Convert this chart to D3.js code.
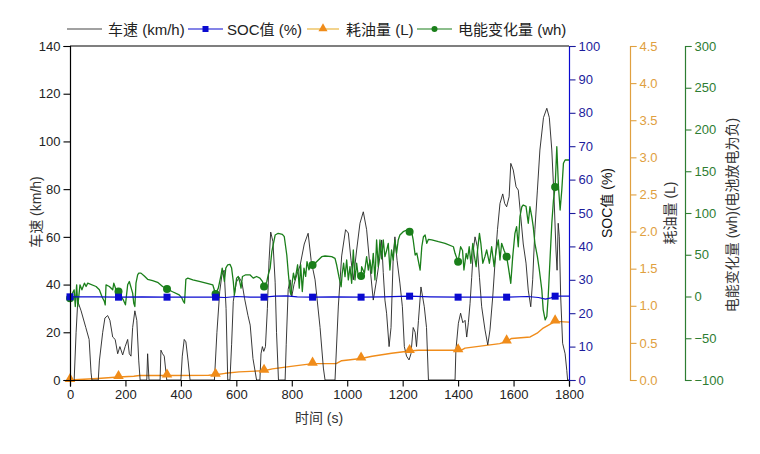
<!DOCTYPE html>
<html><head><meta charset="utf-8">
<script src="https://cdn.jsdelivr.net/npm/d3@7"></script>
<style>
body{margin:0;background:#fff;}
text{font-family:"Liberation Sans",Arial,"Noto Sans CJK SC",sans-serif;}
</style></head>
<body><svg id="c" width="760" height="454"></svg>
<script>
// ---------- data ----------
const markerTimes = [0,175,350,525,700,875,1050,1225,1400,1575,1750];

const speedT = [0,15,22,28,40,57,69,76,79,102,106,118,126,136,144,154,163,172,180,190,199,208,214,220,226,234,241,248,253,277,280,285,325,328,334,340,349,400,405,412,418,426,433,521,530,540,548,556,563,569,577,583,589,600,610,620,630,642,650,660,673,685,689,694,699,705,712,718,724,732,740,745,752,776,780,787,794,800,808,818,830,845,859,870,884,902,914,920,956,968,980,994,1004,1014,1022,1034,1046,1058,1070,1082,1094,1106,1118,1124,1130,1136,1142,1151,1158,1166,1172,1180,1190,1199,1206,1214,1223,1230,1238,1245,1250,1257,1266,1278,1286,1293,1389,1392,1401,1409,1417,1425,1431,1437,1443,1449,1455,1461,1469,1477,1485,1497,1507,1515,1525,1533,1542,1551,1561,1568,1575,1584,1590,1599,1609,1617,1626,1635,1645,1653,1662,1669,1677,1686,1695,1708,1720,1729,1738,1746,1753,1757,1761,1765,1770,1777,1786,1792,1795,1800];
const speedV = [0,0,20,33,29,22,17,3,0,0,8,20,26,27,25,18,17,11,14,10.5,14,17,11,10,22,29,25,8,0,0,11,0,0,12.5,11,10,0,0,10,17,16,8,0,0,20,37,44,46,30,0,0,15,33,41,43,41,34,27,23,9,0,0,11,14,12,14,30,50,62,58,41,20,0,0,15,38,42,35,40,44,48,57,61.5,50,42,22,5,0,0,31,52,63,61.6,50,42,54.5,65.7,70.5,63,47.5,33.5,42,51.7,58.7,45,33.5,28,14,22,51.7,60,50,40.6,30.7,14,10,8.4,11,22,20,14,25,39,30.7,22,0,0,12.5,23.8,28,24,25,18,24,32,43,54.5,60,56,43,30.7,21,14.7,21,35,49,63,74,78,74,72.6,76.8,90.8,88,81,79.6,68.5,57,49,37.7,30.7,42,63,79.6,96.4,110,113.9,110,96.4,76.8,54.5,46,65.7,60,35,15.4,11,4,0,0];

const socT = [0,100,175,260,350,450,525,560,600,650,700,740,780,820,875,950,1050,1130,1225,1300,1400,1500,1575,1650,1690,1715,1735,1750,1800];
const socV = [24.9,24.9,24.8,24.9,24.8,24.8,24.8,24.7,25.0,24.8,24.8,25.1,25.2,24.9,24.8,24.9,24.8,24.9,25.1,24.9,24.8,24.8,24.8,25.0,24.7,24.2,24.6,25.1,25.1];

const fuelT = [0,100,175,230,250,350,500,525,560,610,700,730,790,875,960,980,1050,1090,1160,1225,1256,1400,1410,1425,1550,1575,1593,1660,1685,1707,1750,1800];
const fuelV = [0,0.02,0.04,0.05,0.06,0.06,0.065,0.07,0.09,0.11,0.125,0.15,0.18,0.22,0.22,0.26,0.29,0.32,0.36,0.39,0.40,0.40,0.40,0.43,0.49,0.52,0.56,0.58,0.63,0.70,0.79,0.78];

const energyT = [0,15,19,24,28,36,43,52,58,64,94,106,115,124,127,130,142,154,158,166,175,192,200,208,214,226,230,234,238,244,248,256,268,280,298,316,334,350,370,394,404,409,413,418,425,443,466,491,515,525,535,545,549,557,562,569,577,583,589,593,601,607,612,617,622,634,649,661,673,685,694,700,710,715,722,728,740,751,766,773,782,788,794,797,802,806,811,815,821,827,832,838,844,850,855,862,869,875,884,896,908,920,944,956,962,970,978,982,987,992,998,1004,1010,1016,1022,1028,1034,1040,1050,1052,1062,1070,1076,1082,1088,1094,1100,1106,1112,1118,1124,1130,1136,1142,1148,1154,1160,1166,1172,1178,1184,1190,1202,1215,1225,1233,1238,1245,1251,1256,1263,1269,1275,1281,1287,1293,1305,1329,1353,1383,1389,1400,1409,1416,1421,1429,1434,1440,1446,1453,1458,1465,1470,1477,1482,1489,1497,1503,1513,1521,1530,1537,1545,1551,1557,1566,1575,1581,1590,1597,1605,1611,1617,1623,1630,1635,1645,1653,1659,1666,1671,1677,1686,1693,1702,1707,1714,1720,1725,1732,1738,1744,1750,1756,1762,1768,1774,1780,1786,1800];
const energyV = [-2,8,-12,14,-12,14,8,16,12,16,12,8,0,-6,-10,14,12,8,16,8,6,-4,-10,14,18,4,-8,-12,16,26,28,28,24.5,20.6,19,17,12,9,5.7,2,-2,-6,-8,20.6,22,20,18,16,14,3,10,26,34,18,34,38,38.5,34,18,2,22,24,18,10,24,26,26,22,24,22,18,12,18,26,34,53.6,73.6,75.7,74.5,71.6,49.7,26,5.7,2,18,28,20,26,38,10,38,6,34,24,41.7,32,38,37.7,39.8,43.7,47.7,48.5,47.7,45.7,37.7,23.7,11.7,27.8,39.8,23.7,43.7,19.8,35.7,15.8,55.7,19.8,39.8,23.7,24.6,35.7,27.8,47.7,31.7,43.7,27.8,51.7,19.8,67.7,35.7,67.7,45,67.7,47.7,55,63.7,31.7,55.7,43.7,67.7,51.7,67.7,73.6,77.6,79.6,77.6,76.4,67.7,49.7,52,43.7,31.7,59.6,71.6,73.6,63.7,68.5,67.7,65.6,63.7,59.6,51.7,41.7,59.6,55,31.7,51.7,45,59.6,39.8,63.7,50,35.7,55,75.7,63.7,39.8,48,55.7,39.8,59.6,35.7,55,67.7,43.7,63.7,55,47.7,35.7,15.8,47.7,75.7,83.6,59.6,95.6,107.5,109.6,108,87.7,107.5,95,83.6,63.7,47.7,31.7,7.8,-16,-28,-24,0,47.7,87.7,115.6,131,179.4,131.5,103.6,127.5,159.5,163.5,163.5];

const speedTicks = [0,20,40,60,80,100,120,140];
const timeTicks = [0,200,400,600,800,1000,1200,1400,1600,1800];
const socTicks = [0,10,20,30,40,50,60,70,80,90,100];
const fuelTicks = [0,0.5,1,1.5,2,2.5,3,3.5,4,4.5];
const energyTicks = [-100,-50,0,50,100,150,200,250,300];

const legendLabels = ["车速 (km/h)","SOC值 (%)","耗油量 (L)","电能变化量 (wh)"];

// ---------- chart ----------
const svg = d3.select("#c");
const L = 70, R = 569, T = 46, B = 380;
const x = d3.scaleLinear().domain([0,1800]).range([L,R]);
const ySpeed = d3.scaleLinear().domain([0,140]).range([B,T]);
const ySoc = d3.scaleLinear().domain([0,100]).range([B,T]);
const yFuel = d3.scaleLinear().domain([0,4.5]).range([B,T]);
const yEn = d3.scaleLinear().domain([-100,300]).range([B,T]);

const cBlack="#222", cBlue="#0a0ad0", cBlueAx="#1c1c9c", cOrange="#f08c1a", cOrangeAx="#e0a040", cGreen="#1a7f1a", cGreenAx="#2e7d32";

svg.append("rect").attr("width",760).attr("height",454).attr("fill","#fff");

function pairs(t,v){return t.map((d,i)=>[d,v[i]]);}
function drawLine(t,v,ys,color,w){
  svg.append("path").datum(pairs(t,v))
    .attr("fill","none").attr("stroke",color).attr("stroke-width",w).attr("stroke-linejoin","round")
    .attr("d",d3.line().x(d=>x(d[0])).y(d=>ys(d[1])));
}
function markers(t,v){return pairs(t,v).filter(d=>markerTimes.includes(d[0]));}

// frame top
svg.append("line").attr("x1",L).attr("x2",R).attr("y1",T).attr("y2",T).attr("stroke","#000").attr("stroke-width",1.2);

// lines
drawLine(fuelT,fuelV,yFuel,cOrange,1.4);
drawLine(speedT,speedV,ySpeed,cBlack,0.9);
drawLine(energyT,energyV,yEn,cGreen,1.3);
drawLine(socT,socV,ySoc,cBlue,1.2);

// markers
const tri = d3.symbol().type(d3.symbolTriangle).size(48);
svg.append("g").selectAll("path").data(markers(fuelT,fuelV)).join("path")
  .attr("d",tri).attr("transform",d=>`translate(${x(d[0])},${yFuel(d[1])-1})`).attr("fill",cOrange);
svg.append("g").selectAll("circle").data(markers(energyT,energyV)).join("circle")
  .attr("cx",d=>x(d[0])).attr("cy",d=>yEn(d[1])).attr("r",4).attr("fill",cGreen);
svg.append("g").selectAll("rect").data(markers(socT,socV)).join("rect")
  .attr("x",d=>x(d[0])-3.5).attr("y",d=>ySoc(d[1])-3.5).attr("width",7).attr("height",7).attr("fill",cBlue);

// axes helper
function axis(gen, scale, major, minor, pos, color, fmt){
  const g = svg.append("g").attr("transform",pos);
  g.call(gen(scale).tickValues(minor).tickSize(3.5).tickFormat(""));
  g.call(gen(scale).tickValues(major).tickSize(6.5).tickPadding(3).tickFormat(fmt));
  g.selectAll("path,line").attr("stroke",color).attr("stroke-width",1.1);
  g.selectAll(".domain").attr("stroke-width",1.2);
  g.selectAll("text").attr("fill",color==="#000"?"#222":color).attr("font-size",13)
    .attr("font-family",'"Liberation Sans",Arial,sans-serif');
  return g;
}
const mid = a => a.slice(0,-1).map((d,i)=>(d+a[i+1])/2);

axis(d3.axisLeft, ySpeed, speedTicks, mid(speedTicks), `translate(${L},0)`, "#000", d3.format("d"));
axis(d3.axisBottom, x, timeTicks, mid(timeTicks), `translate(0,${B})`, "#000", d3.format("d"));
axis(d3.axisRight, ySoc, socTicks, mid(socTicks), `translate(${R},0)`, cBlueAx, d3.format("d"));
const gF = axis(d3.axisRight, yFuel, fuelTicks, mid(fuelTicks), `translate(630,0)`, cOrangeAx, d3.format(".1f"));
const gE = axis(d3.axisRight, yEn, energyTicks, mid(energyTicks), `translate(685,0)`, cGreenAx, d3.format("d"));
svg.selectAll("g").filter(function(){return this.getAttribute("transform")==="translate(569,0)";})
  .select(".domain").attr("stroke",cBlue);

// axis titles
function vTitle(txt,cx,cy,color){
  svg.append("text").attr("transform",`translate(${cx},${cy}) rotate(-90)`).attr("text-anchor","middle")
    .attr("dominant-baseline","central").attr("font-size",14).attr("fill",color).text(txt);
}
vTitle("车速 (km/h)",36,212,"#333");
vTitle("SOC值 (%)",607,203,"#111");
vTitle("耗油量 (L)",670,213,"#333");
vTitle("电能变化量 (wh)(电池放电为负)",732,215,"#333");
svg.append("text").attr("x",319).attr("y",423).attr("text-anchor","middle").attr("font-size",14).attr("fill","#333").text("时间 (s)");

// legend
const lg = svg.append("g");
const legendItems = [
  {x1:67,x2:102,tx:108,color:"#444",mk:null},
  {x1:188,x2:223,tx:227,color:cBlue,mk:"sq"},
  {x1:307,x2:339,tx:346,color:"#e8b030",mk:"tri"},
  {x1:417,x2:452,tx:458,color:cGreen,mk:"c"}
];
legendItems.forEach((it,i)=>{
  lg.append("line").attr("x1",it.x1).attr("x2",it.x2).attr("y1",29).attr("y2",29).attr("stroke",it.color).attr("stroke-width",1.1);
  const cx=(it.x1+it.x2)/2;
  if(it.mk==="sq") lg.append("rect").attr("x",cx-3).attr("y",26).attr("width",6).attr("height",6).attr("fill",cBlue);
  if(it.mk==="tri") lg.append("path").attr("d",d3.symbol().type(d3.symbolTriangle).size(36)).attr("transform",`translate(${cx},28.5)`).attr("fill",cOrange);
  if(it.mk==="c") lg.append("circle").attr("cx",cx).attr("cy",29).attr("r",3).attr("fill",cGreen);
  lg.append("text").attr("x",it.tx).attr("y",29).attr("dominant-baseline","central").attr("font-size",15).attr("fill","#222").text(legendLabels[i]);
});
</script></body></html>
